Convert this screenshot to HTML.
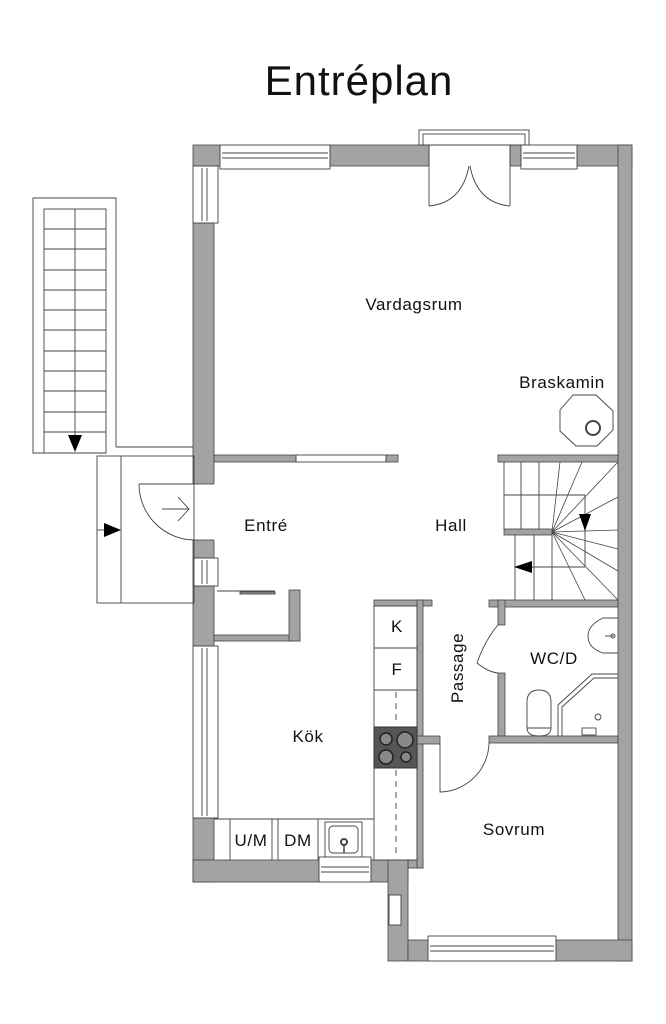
<!DOCTYPE html>
<html><head><meta charset="utf-8"><style>
html,body{margin:0;padding:0;background:#fff;}
svg{display:block;}
text{font-family:"Liberation Sans",sans-serif;fill:#111;}
</style></head><body>
<svg width="666" height="1024" viewBox="0 0 666 1024" xmlns="http://www.w3.org/2000/svg">
<text x="359" y="95" font-size="42" letter-spacing="1" text-anchor="middle">Entréplan</text>
<g fill="#a3a3a3" stroke="#444" stroke-width="0.8">
<rect x="193" y="145" width="27" height="21"/>
<rect x="330" y="145" width="99" height="21"/>
<rect x="510" y="145" width="11" height="21"/>
<rect x="577" y="145" width="55" height="21"/>
<rect x="618" y="145" width="14" height="816"/>
<rect x="193" y="223" width="21" height="261"/>
<rect x="193" y="540" width="21" height="18"/>
<rect x="193" y="586" width="21" height="60"/>
<rect x="193" y="818" width="21" height="64"/>
<rect x="193" y="860" width="126" height="22"/>
<rect x="371" y="860" width="52" height="8"/>
<rect x="371" y="860" width="37" height="22"/>
<rect x="388" y="860" width="20" height="101"/>
<rect x="408" y="940" width="20" height="21"/>
<rect x="556" y="940" width="76" height="21"/>
<rect x="214" y="455" width="82" height="7"/>
<rect x="386" y="455" width="12" height="7"/>
<rect x="498" y="455" width="120" height="7"/>
<rect x="214" y="635" width="86" height="6"/>
<rect x="289" y="590" width="11" height="51"/>
<rect x="504" y="529" width="48" height="6"/>
<rect x="489" y="600" width="129" height="7"/>
<rect x="498" y="600" width="7" height="25"/>
<rect x="498" y="673" width="7" height="68"/>
<rect x="489" y="736" width="129" height="7"/>
<rect x="374" y="600" width="58" height="6"/>
<rect x="417" y="600" width="6" height="268"/>
<rect x="417" y="736" width="23" height="8"/>
</g>
<g fill="none" stroke="#444" stroke-width="0.9">
<rect x="220" y="145" width="110" height="24" fill="#fff"/>
<line x1="222" y1="153" x2="328" y2="153"/><line x1="222" y1="158" x2="328" y2="158"/>
<rect x="521" y="145" width="56" height="24" fill="#fff"/>
<line x1="523" y1="153" x2="575" y2="153"/><line x1="523" y1="158" x2="575" y2="158"/>
<rect x="419" y="130" width="110" height="15"/>
<rect x="423" y="134" width="102" height="11"/>
<polyline points="429,145 429,206"/><polyline points="510,145 510,206"/>
<path d="M429,206 Q462,203 469,166"/><path d="M510,206 Q477,203 470,166"/>
<rect x="193" y="166" width="25" height="57" fill="#fff"/>
<line x1="202" y1="168" x2="202" y2="221"/><line x1="207" y1="168" x2="207" y2="221"/>
<rect x="193" y="558" width="25" height="28" fill="#fff"/>
<line x1="202" y1="560" x2="202" y2="584"/><line x1="207" y1="560" x2="207" y2="584"/>
<rect x="193" y="646" width="25" height="172" fill="#fff"/>
<line x1="202" y1="648" x2="202" y2="816"/><line x1="207" y1="648" x2="207" y2="816"/>
<rect x="296" y="455" width="90" height="7"/>
<polygon points="573,395 596,395 613,411 613,430 597,446 576,446 560,431 560,410"/>
<circle cx="593" cy="428" r="7" stroke-width="2"/>
<polyline points="116,447 116,198 33,198 33,453 106,453"/>
<line x1="116" y1="447" x2="193" y2="447"/>
<rect x="44" y="209" width="62" height="244"/>
<line x1="75" y1="209" x2="75" y2="440"/>
<g stroke-width="1">
<line x1="44" y1="229" x2="106" y2="229"/><line x1="44" y1="249" x2="106" y2="249"/>
<line x1="44" y1="270" x2="106" y2="270"/><line x1="44" y1="290" x2="106" y2="290"/>
<line x1="44" y1="310" x2="106" y2="310"/><line x1="44" y1="330" x2="106" y2="330"/>
<line x1="44" y1="351" x2="106" y2="351"/><line x1="44" y1="371" x2="106" y2="371"/>
<line x1="44" y1="391" x2="106" y2="391"/><line x1="44" y1="412" x2="106" y2="412"/>
<line x1="44" y1="432" x2="106" y2="432"/>
</g>
<rect x="97" y="456" width="97" height="147"/>
<line x1="121" y1="456" x2="121" y2="603"/>
<line x1="97" y1="530" x2="104" y2="530"/>
<path d="M139,484 L194,484 M139,484 A56,56 0 0 0 194,540"/>
<path d="M162,509 L189,509 M178,497 L189,509 L178,521"/>
<line x1="217" y1="591" x2="275" y2="591"/>
<rect x="240" y="592" width="35" height="2" fill="#a3a3a3"/>
<line x1="504" y1="462" x2="504" y2="529"/>
<line x1="521" y1="462" x2="521" y2="529"/><line x1="539" y1="462" x2="539" y2="529"/>
<line x1="504" y1="495" x2="585" y2="495"/><line x1="585" y1="495" x2="585" y2="567"/>
<line x1="515" y1="535" x2="515" y2="600"/><line x1="534" y1="535" x2="534" y2="600"/><line x1="552" y1="535" x2="552" y2="600"/>
<line x1="515" y1="567" x2="585" y2="567"/>
<g stroke-width="0.8">
<line x1="552" y1="532" x2="560" y2="462"/><line x1="552" y1="532" x2="582" y2="462"/>
<line x1="552" y1="532" x2="618" y2="462"/><line x1="552" y1="532" x2="618" y2="497"/>
<line x1="552" y1="532" x2="618" y2="530"/><line x1="552" y1="532" x2="618" y2="549"/>
<line x1="552" y1="532" x2="618" y2="571"/><line x1="552" y1="532" x2="618" y2="600"/>
<line x1="552" y1="532" x2="585" y2="600"/>
</g>
<path d="M498,625 Q485,640 477,663 Q488,672 498,673"/>
<path d="M618,618 L603,618 Q588,625 588,636 Q588,648 603,653 L618,653"/>
<line x1="605" y1="636" x2="614" y2="636"/><circle cx="613" cy="636" r="2"/>
<polyline points="618,674 592,674 558,705 558,736"/>
<polyline points="618,678 594,678 562,707 562,736"/>
<circle cx="598" cy="717" r="3"/>
<rect x="582" y="728" width="14" height="7"/>
<path d="M527,728 L527,702 Q527,690 539,690 Q551,690 551,702 L551,728 Z"/>
<path d="M527,728 Q527,736 539,736 Q551,736 551,728"/>
<rect x="374" y="606" width="43" height="254"/>
<line x1="374" y1="648" x2="417" y2="648"/><line x1="374" y1="690" x2="417" y2="690"/>
<line x1="396" y1="692" x2="396" y2="725" stroke-dasharray="6,5"/>
<line x1="396" y1="770" x2="396" y2="858" stroke-dasharray="6,5"/>
<line x1="214" y1="819" x2="374" y2="819"/>
<line x1="230" y1="819" x2="230" y2="860"/><line x1="272" y1="819" x2="272" y2="860"/><line x1="278" y1="819" x2="278" y2="860"/>
<line x1="318" y1="819" x2="318" y2="860"/>
<rect x="325" y="822" width="37" height="35"/>
<rect x="329" y="826" width="29" height="27" rx="4"/>
<circle cx="344" cy="842" r="3" stroke-width="2"/><line x1="344" y1="845" x2="344" y2="853" stroke-width="1.5"/>
<rect x="319" y="857" width="52" height="25" fill="#fff"/>
<line x1="321" y1="867" x2="369" y2="867"/><line x1="321" y1="872" x2="369" y2="872"/>
<rect x="389" y="895" width="12" height="30" fill="#fff"/>
<rect x="428" y="936" width="128" height="25" fill="#fff"/>
<line x1="430" y1="946" x2="554" y2="946"/><line x1="430" y1="951" x2="554" y2="951"/>
<path d="M440,744 L440,792 A50,50 0 0 0 489,743"/>
</g>
<rect x="374" y="727" width="43" height="41" fill="#555" stroke="#333"/>
<g fill="#888" stroke="#222" stroke-width="1.5">
<circle cx="386" cy="739" r="6"/><circle cx="405" cy="740" r="8"/>
<circle cx="386" cy="757" r="7"/><circle cx="406" cy="757" r="5"/>
</g>
<g fill="#000">
<polygon points="68,435 82,435 75,452"/>
<polygon points="104,523 104,537 121,530"/>
<polygon points="579,514 591,514 585,531"/>
<polygon points="532,561 532,573 514,567"/>
</g>
<g font-size="17" letter-spacing="0.6">
<text x="414" y="310" text-anchor="middle">Vardagsrum</text>
<text x="562" y="388" text-anchor="middle">Braskamin</text>
<text x="266" y="531" text-anchor="middle">Entré</text>
<text x="451" y="531" text-anchor="middle">Hall</text>
<text x="554" y="664" text-anchor="middle">WC/D</text>
<text x="308" y="742" text-anchor="middle">Kök</text>
<text x="514" y="835" text-anchor="middle">Sovrum</text>
<text x="397" y="632" text-anchor="middle">K</text>
<text x="397" y="675" text-anchor="middle">F</text>
<text x="251" y="846" text-anchor="middle">U/M</text>
<text x="298" y="846" text-anchor="middle">DM</text>
<text transform="translate(463,668) rotate(-90)" text-anchor="middle">Passage</text>
</g>
</svg>
</body></html>
